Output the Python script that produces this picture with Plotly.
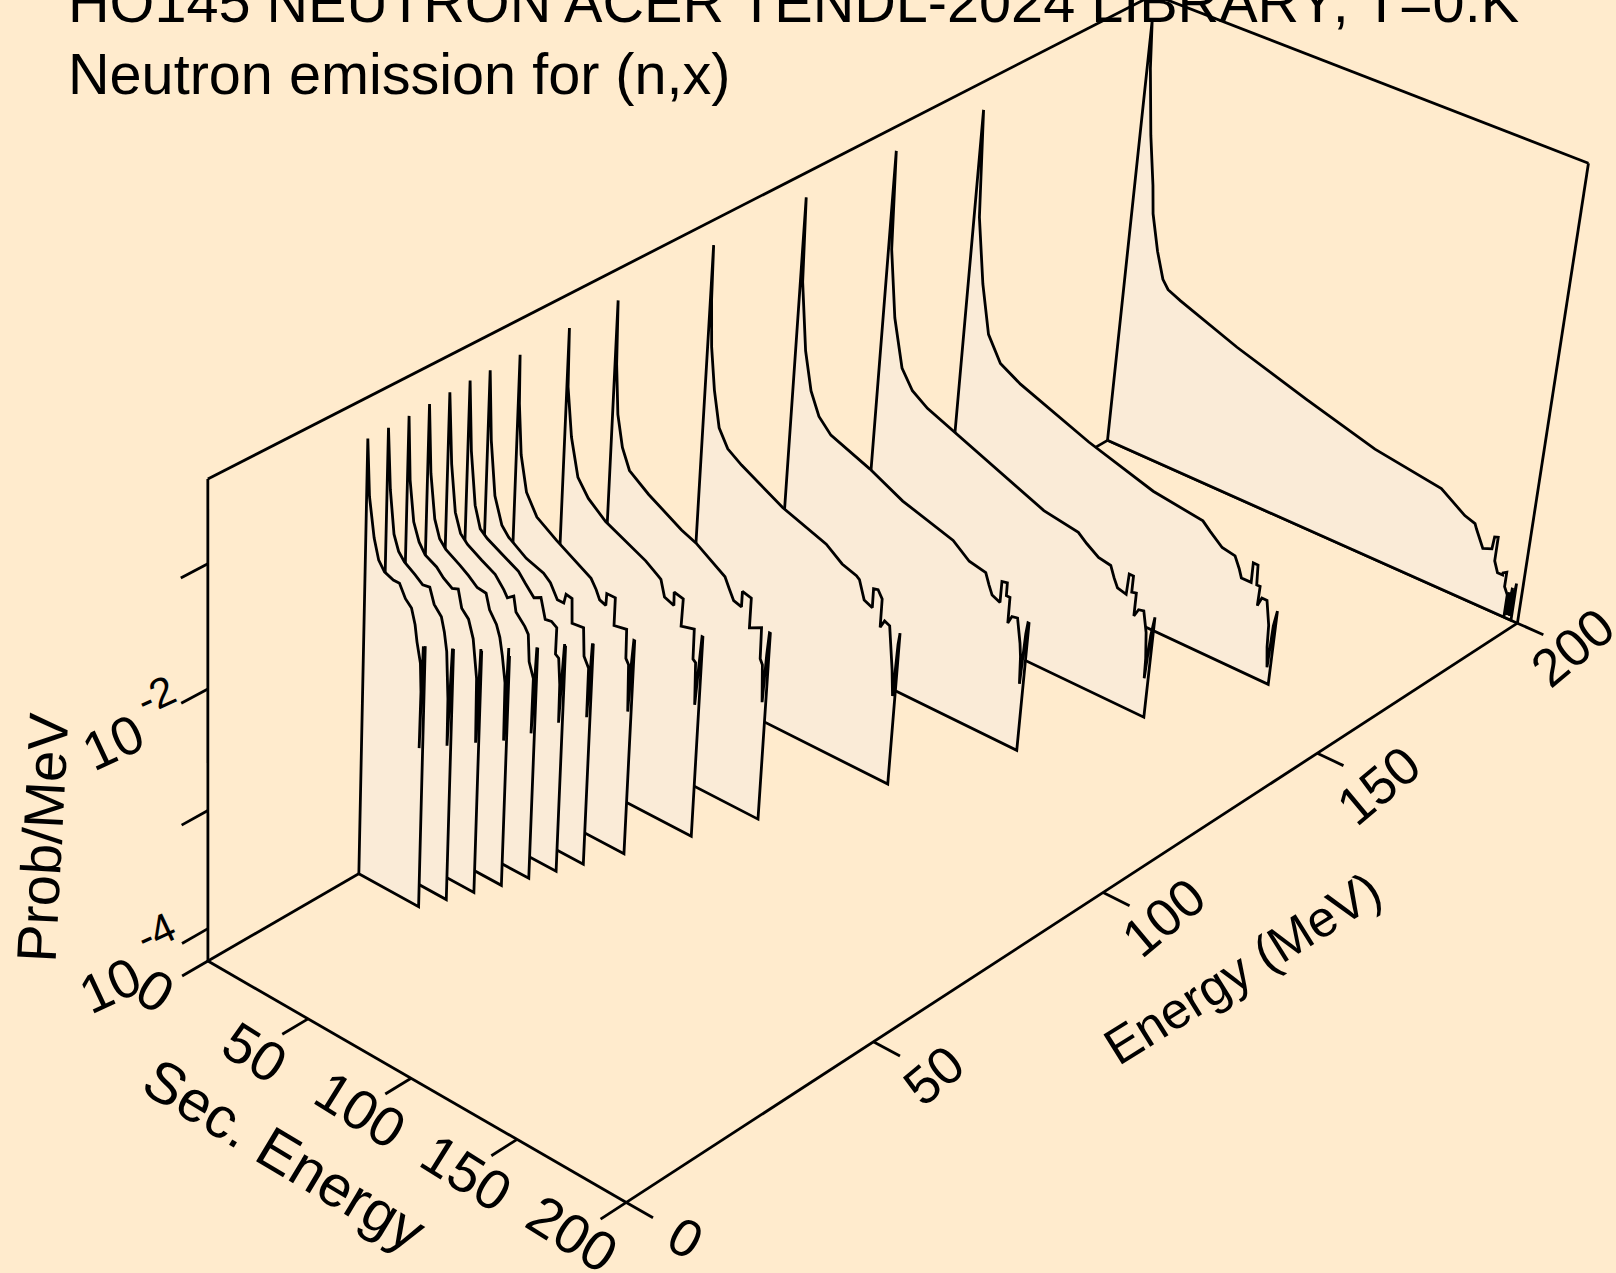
import numpy as np
import plotly.graph_objects as go

Z_LOG_MIN, Z_LOG_MAX = -4.28, -0.34
AXIS_MAX = 200.0
INCIDENT = [30, 34, 38, 42, 46, 50, 54, 60, 70, 80, 100, 120, 140, 160, 200]

SEC_30 = [.5,1.8,4.4,6.8,9.7,14,17,20,23,24.9,26,27.9,28.5,28.3,28.7,29.1,29.5,30]
LOGP_30 = [-.66,-1.11,-1.42,-1.58,-1.65,-1.68,-1.68,-1.78,-1.83,-1.95,-2.08,-2.24,-2.47,-2.94,-2.46,-2.09,-2.56,-2.08]
SEC_34 = [.5,2,4.2,6.6,9.5,14.7,18.5,21.9,24.2,27.8,29.4,30.8,31.3,32,32.2,32.8,33.5,33.7,34]
LOGP_34 = [-.66,-1.14,-1.48,-1.60,-1.66,-1.72,-1.77,-1.76,-1.88,-1.95,-2.06,-2.21,-2.34,-2.59,-2.98,-2.56,-2.16,-2.56,-2.16]
SEC_38 = [.5,1.7,3.9,6.7,9.8,15.4,18.8,23.1,26,27.9,31.3,33.8,34.8,36,36.5,37,37.6,37.8,38]
LOGP_38 = [-.65,-1.15,-1.47,-1.61,-1.69,-1.74,-1.80,-1.85,-1.83,-1.97,-2.03,-2.17,-2.31,-2.48,-3.01,-2.56,-2.22,-2.56,-2.23]
SEC_42 = [.5,2,4.4,7,10.1,17,21.3,25.6,29.9,31.8,35.3,37.1,38.6,40.3,40.6,41,41.5,41.8,42]
LOGP_42 = [-.64,-1.18,-1.53,-1.67,-1.73,-1.80,-1.85,-1.91,-1.92,-2.04,-2.13,-2.22,-2.36,-2.57,-3.05,-2.66,-2.27,-2.66,-2.33]
SEC_46 = [.5,2.3,4.7,7.5,11,17.9,24.6,29,30.8,33.8,35.1,39.5,41.3,42.2,44.5,44.4,45,45.6,45.8,46]
LOGP_46 = [-.63,-1.19,-1.56,-1.71,-1.77,-1.84,-1.90,-1.99,-2.04,-2.00,-2.12,-2.20,-2.25,-2.47,-2.59,-3.05,-2.66,-2.32,-2.66,-2.32]
SEC_50 = [.5,2.1,4.7,7.5,11,18.7,26.4,29.9,34.2,37.5,39.9,42.9,45.5,45.4,47,48,48.2,48.8,49.5,49.7,50]
LOGP_50 = [-.62,-1.17,-1.59,-1.76,-1.81,-1.88,-1.95,-2.02,-2.10,-2.07,-2.23,-2.22,-2.25,-2.47,-2.49,-2.70,-3.02,-2.66,-2.35,-2.66,-2.36]
SEC_54 = [.5,2.1,4.7,8.5,12,20.7,29.2,32.6,36.2,39.3,40.2,43.1,43.6,49.1,49.9,52.3,52.4,53,53.6,53.8,54]
LOGP_54 = [-.62,-1.17,-1.60,-1.81,-1.88,-1.98,-2.03,-2.08,-2.19,-2.19,-2.11,-2.12,-2.32,-2.31,-2.54,-2.62,-3.03,-2.71,-2.40,-2.66,-2.40]
SEC_60 = [.5,1,2.7,5.9,11.3,21,29.5,38.2,40.8,42.7,45.7,45.9,50,50,56,56.3,57.7,58.4,59,59.6,60]
LOGP_60 = [-.62,-1.01,-1.41,-1.69,-1.85,-1.96,-2.04,-2.13,-2.20,-2.27,-2.29,-2.19,-2.19,-2.42,-2.40,-2.64,-2.68,-3.07,-2.66,-2.46,-2.46]
SEC_70 = [.5,1,3.6,7.5,12.9,21.6,35.3,41.4,47.4,49,51.1,55.7,55.5,59.9,59.6,65.8,66,67.3,68,69,69.6,70]
LOGP_70 = [-.61,-1.08,-1.47,-1.77,-1.90,-2.02,-2.13,-2.18,-2.25,-2.27,-2.40,-2.43,-2.32,-2.34,-2.57,-2.54,-2.79,-2.81,-3.16,-2.77,-2.57,-2.57]
SEC_80 = [.5,1.2,2.9,5.8,9.7,19.4,35.8,43,57.4,59.7,62.1,65.9,65.9,70.2,70.2,75.8,76.1,77.3,78.3,79,79.6,80]
LOGP_80 = [-.59,-1.10,-1.50,-1.75,-1.91,-2.03,-2.19,-2.24,-2.40,-2.48,-2.56,-2.58,-2.45,-2.47,-2.72,-2.67,-2.93,-2.97,-3.28,-2.87,-2.68,-2.68]
SEC_100 = [.5,1,2.3,4.8,8.1,12.8,19.8,40.6,62,70,77,78.5,79.7,81.4,85.4,85.3,87.4,89.6,89.7,91.5,94,95.7,96.7,97.9,98.5,99]
LOGP_100 = [-.54,-.98,-1.36,-1.70,-1.99,-2.13,-2.21,-2.40,-2.53,-2.63,-2.67,-2.69,-2.76,-2.84,-2.87,-2.71,-2.70,-2.76,-3.0,-2.93,-2.95,-3.15,-3.30,-3.52,-3.07,-2.97]
SEC_120 = [.5,1.5,5.1,9,13.6,19.9,39.4,56,80.8,89,97,99,100.8,104.7,104.7,107.2,107.3,109,109.1,110.7,113.3,115.5,116.3,117,117.7,118.2,118.7]
LOGP_120 = [-.54,-1.23,-1.78,-2.09,-2.27,-2.38,-2.51,-2.65,-2.78,-2.89,-2.92,-3.01,-3.08,-3.11,-2.93,-2.92,-3.03,-3.03,-3.25,-3.18,-3.17,-3.37,-3.48,-3.71,-3.27,-3.17,-3.17]
SEC_140 = [.5,1.9,5.9,11.2,17,24.8,37.8,59,83.3,100,104.3,110.3,116.2,118.3,120.3,124.5,124.9,126.9,126.9,129,129,130.8,133.2,135.3,136.4,136.7,137.5,138.5]
LOGP_140 = [-.54,-1.35,-1.90,-2.29,-2.44,-2.53,-2.62,-2.77,-2.94,-2.99,-3.05,-3.12,-3.14,-3.23,-3.30,-3.32,-3.14,-3.14,-3.28,-3.27,-3.47,-3.40,-3.39,-3.56,-3.78,-3.95,-3.57,-3.40]
SEC_160 = [.5,2.9,7.3,12.1,19,29.4,64,96,120,123.8,130,136.2,138.7,140.2,144.8,144.7,146.9,147.4,149,148.8,150.4,152.8,154.9,155.4,156.5,157,158]
LOGP_160 = [-.575,-1.46,-2.0,-2.40,-2.60,-2.70,-2.93,-3.10,-3.16,-3.22,-3.31,-3.33,-3.42,-3.49,-3.49,-3.32,-3.32,-3.49,-3.49,-3.66,-3.58,-3.58,-3.78,-3.97,-4.14,-3.77,-3.63]
SEC_200 = [.5,2,5.5,9,10.5,14.5,18.5,21.5,28,57,92,126,158,165.7,170,175,176,180,184,184.4,186,186,188,190.4,190.4,192,192,193.7,193.7,194.5,195,195.5,196,197]
LOGP_200 = [-.55,-.95,-1.50,-1.91,-2.15,-2.45,-2.67,-2.74,-2.79,-2.98,-3.17,-3.34,-3.43,-3.52,-3.57,-3.60,-3.64,-3.78,-3.75,-3.64,-3.63,-3.84,-3.93,-3.93,-3.91,-3.89,-4.02,-4.08,-4.27,-4.05,-4.25,-4.0,-4.25,-3.95]

SEC = [SEC_30,SEC_34,SEC_38,SEC_42,SEC_46,SEC_50,SEC_54,SEC_60,SEC_70,SEC_80,SEC_100,SEC_120,SEC_140,SEC_160,SEC_200]
LOGP = [LOGP_30,LOGP_34,LOGP_38,LOGP_42,LOGP_46,LOGP_50,LOGP_54,LOGP_60,LOGP_70,LOGP_80,LOGP_100,LOGP_120,LOGP_140,LOGP_160,LOGP_200]

SEC_TICKS = [0, 50, 100, 150, 200]
E_TICKS = [0, 50, 100, 150, 200]
Z_TICK_LOGS = [-4, -3, -2, -1]

CAM = np.array([[383.30136, 1057.532, -11.717267, 207.91],
                [173.95971, -457.93504, -508.8654, 961.07377],
                [-0.056051138, 0.14260807, -0.055979969, 1.0]])

def project(sec, energy, logp):
    s = np.asarray(sec, float) / AXIS_MAX
    e = np.asarray(energy, float) / AXIS_MAX * np.ones_like(s)
    w = (np.asarray(logp, float) - Z_LOG_MIN) / (Z_LOG_MAX - Z_LOG_MIN) * np.ones_like(s)
    h = np.stack([s, e, w, np.ones_like(s)])
    p = CAM @ h
    return p[0] / p[2], p[1] / p[2]

LW = 2.8
INK = "black"
fig = go.Figure()

def seg(sec, energy, logp, width=LW):
    x, y = project(sec, energy, logp)
    fig.add_trace(go.Scatter(x=x, y=y, mode="lines", line=dict(color=INK, width=width), hoverinfo="skip", showlegend=False))

lo, hi, M = Z_LOG_MIN, Z_LOG_MAX, AXIS_MAX
seg([0, 0], [0, 0], [lo, hi])
seg([0, 0], [0, M], [hi, hi])
seg([0, M], [M, M], [hi, hi])
seg([M, M], [M, M], [hi, lo])
seg([0, M], [0, 0], [lo, lo])
seg([M, M], [0, M], [lo, lo])
seg([0, 0], [0, M], [lo, lo])
seg([0, M], [M, M], [lo, lo])
for t in SEC_TICKS:
    seg([t, t], [0, -5], [lo, lo])
for t in E_TICKS:
    seg([M, M + 12], [t, t], [lo, lo])
for t in Z_TICK_LOGS:
    seg([0, 0], [0, -5], [t, t])

for e, sec, lp in reversed(list(zip(INCIDENT, SEC, LOGP))):
    assert len(sec) == len(lp), e
    xs = [0] + sec + [sec[-1]] + [0]
    ls = [lo] + lp + [lo] + [lo]
    x, y = project(xs, e, ls)
    fig.add_trace(go.Scatter(x=x, y=y, mode="lines", fill="toself", fillcolor="#FAEBD7",
                             line=dict(color=INK, width=LW), hoverinfo="skip", showlegend=False))

FONT = "Liberation Sans"
def label(text, x, y, angle, size):
    fig.add_annotation(x=x, y=y, xref="x", yref="y", text=text, textangle=angle, showarrow=False,
                       font=dict(family=FONT, size=size, color="black"), xanchor="center", yanchor="middle")

for t, (x, y) in zip(SEC_TICKS, [(155,990),(255,1052),(360,1109),(466,1172),(572,1233)]):
    label(str(t), x, y, 32, 56)
for t, (x, y), a in zip(E_TICKS, [(685,1237),(933,1075),(1163,917),(1378,785),(1572,647)], [30,-40,-40,-40,-40]):
    label(str(t), x, y, a, 53)
label("Sec. Energy", 285, 1154, 31, 58)
label("Energy (MeV)", 1242, 968, -32, 51)
label("Prob/MeV", 42, 837, -87, 56)
label("10", 113, 742, -25, 54)
label("-2", 155, 695, -25, 42)
label("10", 110, 985, -25, 54)
label("-4", 155, 932, -25, 42)

fig.add_annotation(x=66, y=0, xref="x", yref="y", yshift=-2, text="HO145 NEUTRON ACER TENDL-2024 LIBRARY; T=0.K", showarrow=False,
                   font=dict(family=FONT, size=57.6, color="black"), xanchor="left", yanchor="middle")
fig.add_annotation(x=66, y=74, xref="x", yref="y", text="Neutron emission for (n,x)", showarrow=False,
                   font=dict(family=FONT, size=57.6, color="black"), xanchor="left", yanchor="middle")

fig.update_layout(width=1616, height=1273, margin=dict(l=0, r=0, t=0, b=0), paper_bgcolor="#FFEBCD", plot_bgcolor="#FFEBCD",
                  showlegend=False,
                  xaxis=dict(range=[0, 1616], visible=False, fixedrange=True),
                  yaxis=dict(range=[1273, 0], visible=False, fixedrange=True))
fig.write_html("out.html", config=dict(displayModeBar=False),
               post_script="document.body.style.margin='0';document.documentElement.style.overflow='hidden';")
